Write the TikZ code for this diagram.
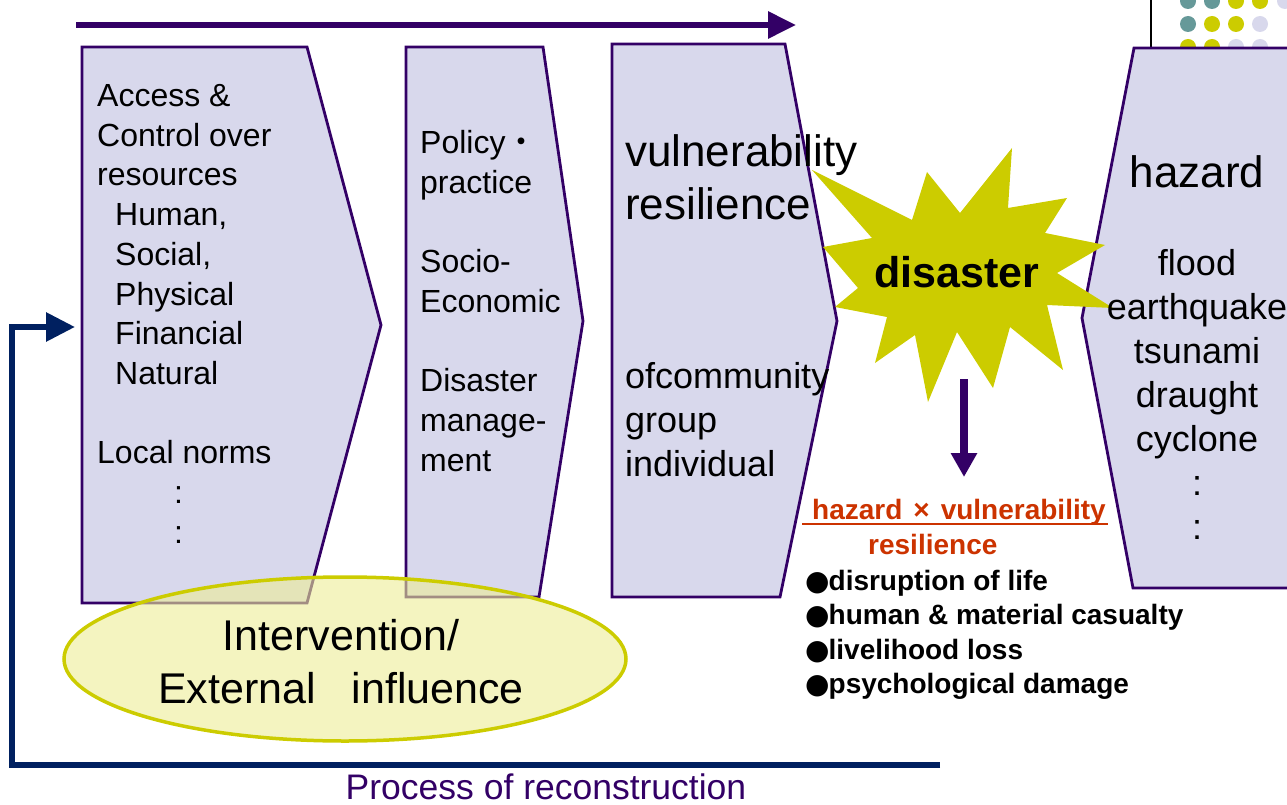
\documentclass[tikz,border=0pt]{standalone}
\usepackage{fontspec}
\setmainfont{Liberation Sans}
\newfontfamily\jpfont{Noto Sans CJK JP}
\newfontfamily\symfont{DejaVu Sans}
\usetikzlibrary{arrows.meta}

\definecolor{boxfill}{RGB}{216,216,236}
\definecolor{boxline}{RGB}{51,0,102}
\definecolor{starcol}{RGB}{204,204,0}
\definecolor{loopnavy}{RGB}{0,32,96}
\definecolor{riskred}{RGB}{204,51,0}
\definecolor{dotteal}{RGB}{102,153,153}
\definecolor{ovalfill}{RGB}{236,236,150}

\newcommand{\lossdot}{{\symfont ●}\hspace{-1pt}}

\tikzset{
  stagebox/.style={draw=boxline, fill=boxfill, line width=2.8pt, line join=miter},
  boxtext/.style={anchor=base west, align=left, inner sep=0pt, font=\fontsize{32}{39.7}\selectfont},
  bigtext/.style={inner sep=0pt, font=\fontsize{44}{53}\selectfont},
  listtext/.style={inner sep=0pt, font=\fontsize{36}{44}\selectfont},
  losstext/.style={anchor=base west, align=left, inner sep=0pt, font=\fontsize{28}{34.6}\selectfont\bfseries}
}

\begin{document}
\begin{tikzpicture}[x=1pt,y=-1pt]
\useasboundingbox (0,0) rectangle (1287,805);

% corner decoration
\draw[line width=1.5pt] (1151,0) -- (1151,48);
\fill[dotteal] (1188,1) circle (8pt);
\fill[dotteal] (1212,1) circle (8pt);
\fill[starcol] (1236,1) circle (8pt);
\fill[starcol] (1260,1) circle (8pt);
\fill[boxfill] (1285,1) circle (8pt);
\fill[dotteal] (1188,24) circle (8pt);
\fill[starcol] (1212,24) circle (8pt);
\fill[starcol] (1236,24) circle (8pt);
\fill[boxfill] (1260,24) circle (8pt);
\fill[starcol] (1188,47) circle (8pt);
\fill[starcol] (1212,47) circle (8pt);
\fill[boxfill] (1236,47) circle (8pt);
\fill[boxfill] (1260,47) circle (8pt);

% stages
\draw[stagebox] (82,47) -- (307,47) -- (381,325) -- (307,603) -- (82,603) -- cycle;
\draw[stagebox] (406,47) -- (543,47) -- (583,321) -- (539,597) -- (406,597) -- cycle;
\draw[stagebox] (612,44) -- (785,44) -- (837,321) -- (780,597) -- (612,597) -- cycle;
\draw[stagebox] (1300,48) -- (1134,48) -- (1082,318) -- (1133,588) -- (1300,588);

% disaster burst
\fill[starcol] (812,170) -- (912,220) -- (927,172) -- (960,213) -- (1012,148) -- (1008,208)
  -- (1067,198) -- (1045,233) -- (1105,245) -- (1057,273) -- (1113,308) -- (1047,305)
  -- (1063,370) -- (1010,327) -- (993,388) -- (957,332) -- (928,402) -- (915,335)
  -- (875,363) -- (887,317) -- (835,307) -- (858,288) -- (823,247) -- (872,238) -- cycle;

% intervention oval
\draw[draw=starcol, line width=3.5pt, fill=ovalfill, fill opacity=0.6] (345,659) ellipse [x radius=281pt, y radius=82pt];

% texts (base = last line)
\node[boxtext] (assets) at (97,543.2) {Access \&\\Control over\\resources\\\hspace*{18pt}Human,\\\hspace*{18pt}Social,\\\hspace*{18pt}Physical\\\hspace*{18pt}Financial\\\hspace*{18pt}Natural\\[39.7pt]Local norms\\\hspace*{77pt}:\\\hspace*{77pt}:};
\node[boxtext] (policy) at (420,471.1) {Policy{\jpfont ・}\\practice\\[39.7pt]Socio-\\Economic\\[39.7pt]Disaster\\manage-\\ment};
\node[bigtext, anchor=base west, align=left] (vuln) at (625,219) {vulnerability\\resilience};
\node[listtext, anchor=base west, align=left] (scale) at (625,476) {ofcommunity\\group\\individual};
\node[bigtext, anchor=base] (hazard) at (1197,188) {hazard};
\node[listtext, anchor=base, align=center] (hazlist) at (1197,539) {flood\\earthquake\\tsunami\\draught\\cyclone\\:\\:};
\node[inner sep=0pt, anchor=base, font=\fontsize{43}{50}\selectfont\bfseries] (disaster) at (957,287) {disaster};

\node[losstext, text=riskred] (formula) at (812,519) {hazard\hspace{11pt}×\hspace{11pt}vulnerability};
\draw[riskred, line width=2.2pt] (802,524) -- (1108,524);
\node[losstext, text=riskred] (resil) at (868,554) {resilience};
\node[losstext] (losses) at (805,693.8) {\lossdot disruption of life\\\lossdot human \& material casualty\\\lossdot livelihood loss\\\lossdot psychological damage};

\node[inner sep=0pt, anchor=base, align=center, font=\fontsize{43}{53}\selectfont] (interv) at (341,703) {Intervention/\\External\ \ \ influence};
\node[inner sep=0pt, anchor=base, text=boxline, font=\fontsize{35.5}{40}\selectfont] (recon) at (546,799) {Process of reconstruction};

% arrows
\coordinate (flowstart) at (76,25);
\coordinate (flowend) at (796,25);
\draw[-{Triangle[length=28pt,width=26pt]}, line width=6pt, color=boxline] (flowstart) -- (flowend);

\coordinate (hit) at (964,379);
\coordinate (impact) at (964,477);
\draw[-{Triangle[length=24pt,width=25pt]}, line width=8pt, color=boxline] (hit) -- (impact);

\coordinate (recstart) at (940,765);
\coordinate (recin) at (75,327);
\draw[-{Triangle[length=29pt,width=28pt]}, line width=6pt, color=loopnavy, line join=miter] (recstart) -- (12,765) -- (12,327) -- (recin);
\end{tikzpicture}
\end{document}
